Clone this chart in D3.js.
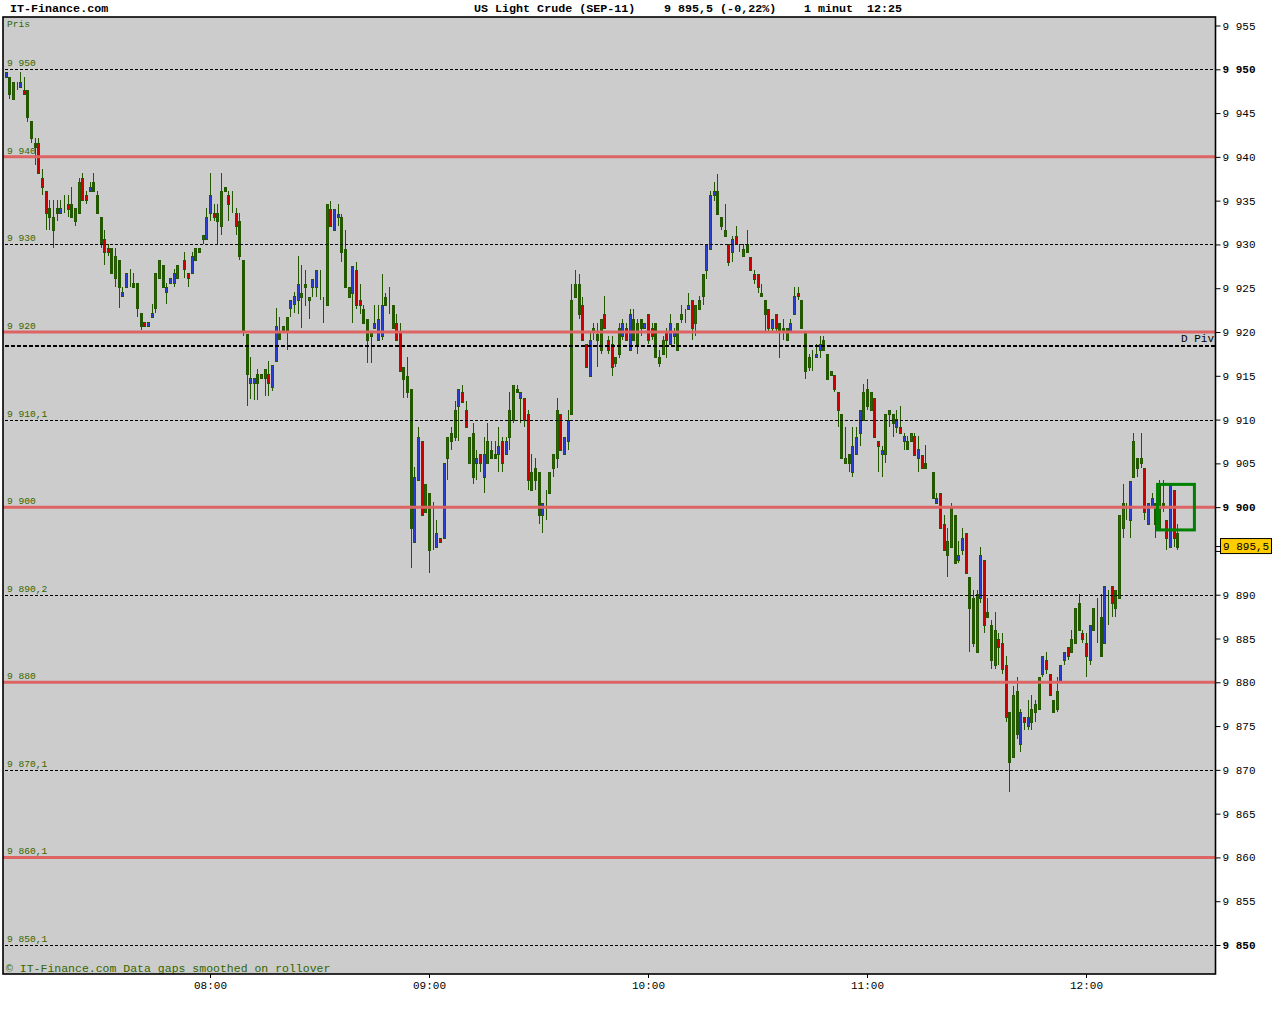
<!DOCTYPE html>
<html><head><meta charset="utf-8">
<script src="https://cdn.jsdelivr.net/npm/d3@7/dist/d3.min.js"></script>
<style>body{margin:0;background:#fff}svg{display:block}</style>
</head><body>
<svg id="chart" width="1280" height="1024"></svg>
<script>
// ---------- data ----------
const startTime = "07:04";            // time of first 1-minute candle
// [open, high, low, close] per minute, null = no trade
const candles = [
[9949.1,9949.7,9949.1,9949.7],[9949.1,9949.1,9946.6,9947.2],[9946.6,9948.6,9946.6,9948.6],[9947.6,9948.6,9947.6,9947.6],
[9948.0,9949.7,9948.0,9948.6],[9947.6,9949.1,9947.2,9947.2],[9947.6,9947.6,9944.0,9944.6],[9944.1,9944.1,9941.6,9942.1],
[9941.6,9942.1,9939.1,9941.1],[9941.6,9942.1,9938.2,9938.2],[9937.6,9938.6,9935.6,9936.6],[9936.1,9936.1,9931.6,9933.6],
[9934.2,9935.1,9931.6,9933.1],[9931.6,9935.1,9929.6,9933.1],[9934.2,9935.1,9932.7,9933.6],[9933.6,9935.1,9933.6,9934.2],
[9934.2,9935.6,9933.6,9934.2],[9934.6,9935.6,9933.1,9934.1],[9934.6,9936.6,9933.1,9933.1],[9932.7,9934.2,9932.1,9934.2],
[9933.6,9937.6,9933.6,9937.1],[9937.6,9938.2,9935.1,9935.1],[9935.6,9936.1,9934.6,9935.1],[9936.1,9937.1,9936.1,9936.6],
[9937.1,9938.2,9936.1,9936.1],[9935.6,9936.1,9933.6,9933.6],[9933.1,9933.1,9929.6,9930.1],[9930.6,9931.6,9927.7,9929.1],
[9929.6,9930.1,9928.7,9929.1],[9929.6,9929.6,9926.7,9926.7],[9926.2,9929.6,9925.1,9928.7],[9928.2,9928.2,9922.7,9925.1],
[9924.1,9925.1,9924.1,9924.6],[9925.1,9926.7,9925.1,9926.7],[9926.2,9927.2,9925.1,9926.2],[9925.6,9926.7,9925.1,9925.1],
[9925.6,9925.6,9921.7,9922.7],[9922.2,9922.2,9920.2,9920.7],[9921.2,9921.2,9920.7,9920.7],[9920.7,9921.2,9920.7,9921.2],
[9921.7,9923.2,9921.7,9922.2],[9922.7,9926.7,9922.2,9926.7],[9926.2,9928.2,9926.2,9928.2],[9927.7,9927.7,9925.1,9925.1],
[9924.6,9925.6,9923.2,9925.1],[9925.6,9926.2,9925.6,9926.2],[9925.6,9927.2,9925.1,9926.7],[9926.2,9927.7,9926.2,9927.7],
null,
[9928.2,9929.1,9926.2,9927.2],[9926.7,9926.7,9925.1,9926.2],[9926.7,9929.1,9926.7,9928.7],[9928.2,9929.6,9928.2,9929.6],
[9929.1,9929.6,9929.1,9929.6],[9930.6,9931.1,9930.1,9931.1],[9930.6,9934.2,9930.6,9933.1],[9933.6,9938.2,9932.7,9935.6],
[9933.6,9934.6,9932.7,9933.1],[9933.6,9934.6,9930.1,9932.7],[9932.1,9938.2,9931.1,9936.1],[9936.6,9936.6,9936.1,9936.1],
[9935.6,9936.1,9932.7,9934.6],[9934.2,9936.1,9933.6,9934.2],[9933.6,9934.2,9931.1,9932.1],[9932.7,9933.6,9928.2,9928.7],
[9928.2,9928.2,9919.6,9920.0],[9919.8,9919.8,9911.6,9915.2],[9914.2,9917.2,9912.4,9914.7],[9914.2,9914.7,9912.2,9914.7],
[9915.2,9915.8,9912.2,9914.2],[9914.7,9915.2,9914.7,9915.2],[9914.7,9915.8,9912.7,9915.8],[9915.2,9916.7,9912.7,9914.2],
[9913.7,9916.2,9913.3,9916.2],[9916.7,9922.7,9916.7,9920.7],[9920.0,9921.7,9919.2,9919.2],[9920.7,9920.7,9920.0,9920.0],
[9920.2,9921.7,9918.0,9921.7],[9922.7,9923.7,9921.7,9923.7],[9923.2,9924.6,9922.2,9924.1],[9923.6,9928.7,9922.1,9925.5],
[9924.0,9927.6,9920.5,9924.5],[9925.1,9927.1,9923.0,9925.5],[9923.6,9924.0,9921.5,9924.0],[9925.1,9926.1,9924.0,9926.1],
[9925.1,9927.1,9924.0,9927.1],[9926.1,9927.1,9923.6,9926.1],[9924.0,9924.0,9921.0,9924.0],[9923.1,9934.6,9923.1,9934.6],
[9934.1,9935.0,9932.1,9932.1],[9931.6,9934.1,9931.6,9934.1],[9933.1,9934.6,9932.1,9933.5],[9933.1,9933.5,9928.0,9929.1],
[9929.5,9931.6,9925.1,9925.1],[9924.0,9925.1,9924.0,9925.1],[9924.5,9927.5,9921.0,9927.5],[9927.1,9928.0,9922.6,9923.1],
[9923.6,9925.5,9922.1,9923.1],[9922.6,9923.1,9921.0,9921.0],[9921.5,9921.5,9916.5,9919.1],[9919.6,9920.0,9916.5,9920.0],
[9920.5,9923.1,9920.5,9921.0],[9919.1,9923.1,9919.1,9921.5],[9919.6,9926.6,9919.1,9923.1],[9924.0,9924.5,9923.1,9923.1],
[9922.1,9925.1,9922.1,9922.1],[9923.1,9923.1,9920.5,9920.5],[9921.0,9922.1,9919.1,9919.1],[9920.0,9921.0,9915.6,9915.6],
[9916.0,9916.0,9912.5,9914.6],[9915.0,9917.1,9912.5,9913.1],[9913.5,9913.5,9893.0,9897.6],[9896.0,9904.6,9896.0,9903.5],
[9903.1,9909.2,9903.1,9908.0],[9907.5,9907.5,9899.1,9899.1],[9899.5,9902.6,9899.5,9902.6],[9901.6,9901.6,9892.5,9895.1],
[9896.1,9900.6,9895.1,9896.1],[9895.5,9898.5,9895.5,9897.0],[9896.5,9896.5,9896.0,9896.0],[9896.5,9905.0,9896.5,9905.0],
[9905.6,9908.0,9903.1,9908.0],[9908.5,9909.2,9906.5,9907.5],[9908.0,9912.1,9907.5,9911.1],[9911.5,9913.5,9907.5,9913.5],
[9913.1,9914.0,9912.0,9912.0],[9911.1,9912.1,9909.1,9909.1],[9905.0,9908.0,9905.0,9908.0],[9908.5,9909.6,9902.6,9903.5],
[9905.0,9906.5,9903.1,9905.6],[9906.1,9906.1,9904.0,9905.0],[9903.5,9908.0,9901.6,9906.1],[9905.0,9909.6,9905.0,9907.5],
[9906.5,9907.5,9905.6,9905.6],[9906.1,9907.5,9905.6,9905.6],[9906.1,9909.1,9904.0,9907.0],[9907.5,9908.0,9904.0,9905.0],
[9906.1,9908.0,9906.1,9907.5],[9908.0,9913.1,9906.5,9911.1],[9910.0,9914.0,9909.6,9914.0],[9913.5,9914.0,9913.1,9913.1],
[9912.5,9913.1,9909.6,9913.1],[9912.5,9912.5,9909.1,9910.0],[9910.6,9911.1,9902.0,9903.1],[9902.0,9906.1,9902.0,9904.0],
[9904.5,9905.6,9902.0,9903.1],[9904.0,9904.0,9898.1,9899.1],[9899.1,9900.5,9897.0,9900.5],[9901.0,9902.0,9898.5,9901.0],
[9901.6,9904.0,9901.6,9904.0],[9904.5,9906.1,9903.5,9906.1],[9905.6,9912.5,9904.5,9911.1],[9910.6,9910.6,9906.5,9906.5],
[9906.1,9908.0,9906.1,9908.0],[9907.5,9911.1,9906.5,9910.0],[9910.6,9925.5,9910.6,9923.6],[9924.0,9927.1,9924.0,9925.5],
[9925.5,9926.6,9921.5,9922.1],[9923.1,9924.0,9919.1,9919.1],[9918.6,9918.6,9916.0,9916.0],[9915.0,9920.0,9915.0,9919.1],
[9920.0,9921.0,9919.1,9920.5],
[9919.8,9921.0,9916.0,9919.1],[9917.9,9921.5,9917.5,9921.5],[9922.1,9924.1,9920.5,9920.5],[9919.1,9919.6,9917.5,9917.9],
[9918.6,9919.6,9915.0,9916.0],[9916.5,9917.1,9916.0,9917.1],[9917.5,9921.0,9917.0,9920.5],[9919.6,9921.5,9919.1,9921.0],
[9920.5,9921.0,9919.1,9919.1],[9917.9,9922.6,9917.9,9922.1],[9921.5,9922.6,9919.1,9919.1],[9918.6,9921.5,9917.5,9921.0],
[9921.5,9921.5,9919.6,9920.5],[9920.5,9921.0,9920.5,9921.0],[9922.1,9922.1,9918.6,9919.1],[9920.5,9921.0,9919.1,9919.6],
[9921.0,9921.0,9917.0,9917.1],[9916.5,9917.9,9916.0,9917.1],[9917.5,9919.6,9917.5,9919.1],[9920.0,9920.5,9917.0,9919.1],
[9918.6,9922.1,9918.6,9921.0],[9919.6,9920.5,9918.6,9920.0],[9917.9,9921.0,9917.9,9921.0],[9921.5,9923.1,9921.0,9922.1],
[9921.0,9922.6,9921.0,9921.0],[9922.6,9924.5,9922.6,9923.1],[9923.6,9923.6,9919.1,9920.5],[9921.0,9923.1,9919.6,9923.1],
[9922.6,9924.1,9922.6,9923.6],[9924.1,9926.6,9923.1,9926.6],[9927.1,9930.1,9926.1,9930.1],[9929.5,9936.1,9929.5,9935.6],
[9935.6,9937.1,9935.0,9936.1],[9936.1,9938.1,9933.5,9933.5],[9933.1,9933.1,9931.6,9932.1],[9931.0,9934.6,9931.0,9931.6],
[9930.1,9930.1,9927.5,9928.0],[9929.1,9931.0,9928.0,9930.6],[9931.0,9932.1,9930.1,9930.1],[9929.1,9930.1,9929.1,9929.1],
[9928.7,9930.1,9928.7,9929.5],[9930.1,9931.6,9929.1,9929.1],[9928.6,9928.6,9927.1,9927.1],[9926.6,9927.1,9925.5,9926.1],
[9926.6,9926.6,9924.5,9925.1],[9924.5,9925.5,9924.1,9924.1],[9923.6,9923.6,9920.0,9922.1],[9922.6,9922.6,9920.0,9920.5],
[9920.5,9921.5,9920.0,9921.5],[9922.1,9922.1,9920.0,9920.5],[9921.0,9921.0,9917.0,9920.0],[9920.5,9921.5,9919.1,9920.0],
[9919.1,9920.5,9919.1,9920.5],[9920.0,9921.5,9920.0,9921.0],[9922.1,9925.1,9922.1,9924.1],[9924.5,9925.1,9923.6,9924.1],
[9923.6,9923.6,9920.5,9920.5],[9920.0,9920.0,9914.6,9915.6],[9916.0,9917.5,9915.6,9917.1],[9916.5,9917.9,9915.6,9916.5],
[9917.1,9918.6,9917.1,9917.5],[9917.9,9919.6,9917.0,9918.6],[9919.1,9919.6,9918.0,9918.0],[9917.5,9917.5,9914.6,9914.6],
[9915.1,9915.6,9915.1,9915.6],[9915.1,9915.1,9913.1,9913.5],[9913.1,9913.1,9909.1,9911.1],[9910.6,9910.6,9905.6,9905.6],
[9905.0,9909.1,9905.0,9905.6],[9906.1,9906.1,9904.0,9905.0],[9904.0,9909.1,9903.5,9907.0],[9906.1,9909.1,9906.1,9908.0],
[9908.5,9911.1,9907.0,9911.1],[9910.0,9914.1,9910.0,9913.1],[9913.5,9914.6,9911.1,9911.5],[9911.1,9913.1,9911.1,9913.1],
[9912.5,9912.5,9908.0,9908.0],[9907.5,9907.5,9904.0,9907.0],[9906.1,9907.0,9903.5,9906.5],[9906.1,9910.6,9905.0,9910.6],
[9910.6,9911.1,9909.1,9911.1],[9910.6,9910.6,9908.0,9909.6],[9909.1,9911.1,9908.5,9910.1],[9909.1,9911.5,9908.5,9908.5],
[9907.5,9908.5,9906.5,9908.1],[9907.5,9908.1,9906.6,9906.6],[9907.5,9908.5,9907.5,9908.5],[9908.1,9908.5,9906.0,9906.0],
[9905.6,9908.1,9904.0,9906.6],[9906.0,9906.0,9904.5,9904.5],[9905.0,9907.1,9904.5,9904.5],
null,
[9904.0,9904.0,9901.0,9901.0],[9900.5,9901.6,9900.5,9901.0],[9901.6,9901.6,9897.6,9897.6],[9898.1,9899.1,9895.1,9895.1],
[9894.5,9897.6,9892.0,9896.1],[9895.5,9900.5,9895.5,9900.0],[9899.1,9899.1,9893.6,9893.6],[9894.0,9896.1,9893.6,9894.5],
[9895.1,9897.6,9894.5,9896.5],[9897.0,9897.0,9892.5,9892.5],[9892.0,9892.0,9883.5,9888.5],[9889.6,9890.5,9884.0,9884.5],
[9883.5,9890.5,9883.5,9890.1],[9889.6,9895.5,9889.0,9894.5],[9894.0,9894.0,9885.6,9886.5],[9888.0,9889.6,9887.5,9887.5],
[9886.5,9887.1,9881.5,9882.5],[9882.0,9888.0,9881.5,9886.0],[9885.0,9885.6,9882.0,9884.0],[9884.5,9885.6,9881.0,9881.5],
[9882.0,9883.0,9875.5,9876.0],[9876.6,9876.6,9867.5,9870.9],[9871.5,9879.6,9871.5,9878.5],[9879.0,9880.6,9873.5,9874.1],
[9873.0,9877.0,9872.0,9876.6],[9876.0,9876.0,9874.5,9875.5],[9875.0,9878.0,9874.5,9876.0],[9875.5,9878.5,9874.5,9877.0],
[9876.6,9878.0,9875.5,9877.5],[9877.0,9880.6,9877.0,9880.6],[9881.0,9883.0,9880.6,9883.0],[9882.5,9883.5,9881.0,9881.5],
[9881.0,9881.0,9878.5,9878.5],[9878.0,9878.0,9876.6,9876.6],[9877.0,9880.6,9876.6,9879.0],[9880.1,9882.0,9880.1,9882.0],
[9882.5,9883.5,9882.0,9883.5],[9884.0,9884.0,9882.5,9883.0],[9883.5,9886.0,9883.5,9885.0],[9884.5,9888.5,9884.5,9888.5],
[9889.0,9890.1,9886.0,9886.0],[9885.6,9886.0,9884.5,9885.0],[9884.5,9885.6,9880.6,9883.0],[9882.5,9886.5,9882.0,9886.5],
[9886.0,9888.5,9886.0,9888.5],[9887.5,9889.6,9884.5,9887.5],[9887.5,9890.1,9883.0,9883.0],[9884.5,9891.0,9884.5,9891.0],
[9890.5,9890.5,9886.5,9890.5],[9891.0,9891.0,9887.5,9889.0],[9888.5,9890.5,9887.5,9890.5],[9889.6,9899.1,9889.6,9899.1],
[9897.6,9902.6,9896.5,9900.5],[9899.5,9900.5,9898.5,9899.5],[9898.5,9903.0,9896.5,9903.0],[9903.5,9908.5,9903.5,9907.5],
[9905.6,9905.6,9903.5,9904.5],[9905.0,9908.5,9904.5,9905.6],[9904.5,9904.5,9898.5,9899.5],[9898.1,9900.5,9898.1,9900.5],
[9900.0,9901.6,9900.0,9901.0],[9900.5,9900.5,9896.5,9898.1],[9897.6,9903.1,9897.6,9902.5],[9900.5,9903.1,9899.5,9900.0],
[9898.5,9898.5,9895.1,9896.5],[9895.5,9902.5,9895.5,9902.5],[9902.0,9902.0,9895.5,9896.5],[9897.0,9898.1,9895.1,9895.5]
];
const solidLevels  = [9940, 9920, 9900, 9880, 9860];
const dashedLevels = [9950, 9930, 9910, 9890, 9870, 9850];
const levelValues  = [9950, 9940, 9930, 9920, 9910, 9900, 9890, 9880, 9870, 9860, 9850];
const levelLabels  = ["9 950","9 940","9 930","9 920","9 910,1","9 900","9 890,2","9 880","9 870,1","9 860,1","9 850,1"];
const pivotValue = 9918.4;
const priceTicks = [9955,9950,9945,9940,9935,9930,9925,9920,9915,9910,9905,9900,9895,9890,9885,9880,9875,9870,9865,9860,9855,9850];
const timeTicks = ["08:00","09:00","10:00","11:00","12:00"];
const lastPrice = 9895.5;
const lastPriceLabel = "9 895,5";
const markerMinutes = [315.6, 325.7];   // minutes after start
const markerPrices  = [9897.4, 9902.6];
const headerParts = ["US Light Crude (SEP-11)", "9 895,5 (-0,22%)", "1 minut", "12:25"];

// ---------- drawing ----------
const svg = d3.select("#chart");
const FONT = "'Liberation Mono','DejaVu Sans Mono',monospace";
const GREEN_TXT = "#336600";
const plot = {left: 3, top: 17, right: 1215.5, bottom: 974};

const parse = d3.timeParse("%H:%M");
const t0 = parse(startTime);
const x = d3.scaleTime().domain([parse("08:00"), parse("12:00")]).range([210, 1086]);
const y = d3.scaleLinear().domain([9850, 9950]).range([945, 69.3]);
const tAt = m => new Date(t0.getTime() + m * 60000);

// plot background
svg.append("rect").attr("x", plot.left).attr("y", plot.top)
  .attr("width", plot.right - plot.left).attr("height", plot.bottom - plot.top)
  .attr("fill", "#cccccc");

// level labels (under candles)
svg.append("g").selectAll("text").data(levelValues).join("text")
  .attr("x", 7).attr("y", d => y(d) - 3)
  .attr("font-family", FONT).attr("font-size", 9.6).attr("fill", GREEN_TXT)
  .text((d, i) => levelLabels[i]);
svg.append("text").attr("x", 7).attr("y", 27).attr("font-family", FONT)
  .attr("font-size", 9.6).attr("fill", GREEN_TXT).text("Pris");

// candles
const data = candles.map((c, i) => c && {t: tAt(i), o: c[0], h: Math.max(c[1], c[0], c[3]), l: Math.min(c[2], c[0], c[3]), c: c[3]}).filter(Boolean);
const STROKE = "#245800";
const px = d => Math.round(x(d.t));
const cg = svg.append("g");
cg.selectAll("line").data(data).join("line")
  .attr("x1", d => px(d) + 0.5).attr("x2", d => px(d) + 0.5)
  .attr("y1", d => Math.round(y(d.h))).attr("y2", d => Math.round(y(d.l)))
  .attr("stroke", STROKE).attr("stroke-width", 1).attr("shape-rendering", "crispEdges");
cg.selectAll("rect").data(data).join("rect")
  .attr("x", d => px(d) - 0.5).attr("width", 2)
  .attr("y", d => Math.round(y(Math.max(d.o, d.c))) + 0.5)
  .attr("height", d => Math.max(0, Math.round(y(Math.min(d.o, d.c))) - Math.round(y(Math.max(d.o, d.c)))))
  .attr("fill", d => d.c > d.o ? "#2b3fd6" : (d.c < d.o ? "#cc0000" : STROKE))
  .attr("stroke", STROKE).attr("stroke-width", 1);

// dashed levels
svg.append("g").selectAll("line").data(dashedLevels).join("line")
  .attr("x1", plot.left + 2).attr("x2", plot.right)
  .attr("y1", d => Math.round(y(d)) + 0.5).attr("y2", d => Math.round(y(d)) + 0.5)
  .attr("stroke", "#000").attr("stroke-width", 1).attr("stroke-dasharray", "3,2");
// solid red levels
svg.append("g").selectAll("line").data(solidLevels).join("line")
  .attr("x1", plot.left).attr("x2", plot.right)
  .attr("y1", d => y(d)).attr("y2", d => y(d))
  .attr("stroke", "#de6464").attr("stroke-width", 3);
// pivot
svg.append("line").attr("x1", plot.left + 2).attr("x2", plot.right)
  .attr("y1", y(pivotValue)).attr("y2", y(pivotValue))
  .attr("stroke", "#000").attr("stroke-width", 2).attr("stroke-dasharray", "4,2");
svg.append("text").attr("x", 1214).attr("y", y(pivotValue) - 4).attr("text-anchor", "end")
  .attr("font-family", FONT).attr("font-size", 11).attr("fill", "#000").text("D Piv");

// marker box
svg.append("rect")
  .attr("x", x(tAt(markerMinutes[0]))).attr("width", x(tAt(markerMinutes[1])) - x(tAt(markerMinutes[0])))
  .attr("y", y(markerPrices[1])).attr("height", y(markerPrices[0]) - y(markerPrices[1]))
  .attr("fill", "none").attr("stroke", "#008000").attr("stroke-width", 3);

// copyright
svg.append("text").attr("x", 6).attr("y", 972).attr("font-family", FONT)
  .attr("font-size", 11.5).attr("fill", GREEN_TXT)
  .text("\u00A9 IT-Finance.com Data gaps smoothed on rollover");

// border
svg.append("rect").attr("x", plot.left).attr("y", plot.top)
  .attr("width", plot.right - plot.left).attr("height", plot.bottom - plot.top)
  .attr("fill", "none").attr("stroke", "#000").attr("stroke-width", 1.6);

// right axis (the tick hidden by the last-price box gets no label)
const coveredTick = Math.round(lastPrice / 5) * 5 === lastPrice ? lastPrice : Math.floor(lastPrice / 5) * 5;
const fmtPrice = d => d === coveredTick ? "" : String(d).slice(0, 1) + " " + String(d).slice(1);
const ya = svg.append("g").attr("transform", `translate(${plot.right},0)`)
  .call(d3.axisRight(y).tickValues(priceTicks).tickSize(5).tickPadding(2).tickFormat(fmtPrice));
ya.select(".domain").remove();
ya.selectAll("line").attr("stroke", "#000");
ya.selectAll("text").attr("font-family", FONT).attr("font-size", 11).attr("fill", "#000")
  .attr("font-weight", d => d % 50 === 0 ? "bold" : "normal");

// bottom axis
const xa = svg.append("g").attr("transform", `translate(0,${plot.bottom})`)
  .call(d3.axisBottom(x).tickValues(timeTicks.map(parse)).tickSize(4).tickPadding(3).tickFormat(d3.timeFormat("%H:%M")));
xa.select(".domain").remove();
xa.selectAll("line").attr("stroke", "#000");
xa.selectAll("text").attr("font-family", FONT).attr("font-size", 11).attr("fill", "#000");

// last price label
svg.append("line").attr("x1", plot.right).attr("x2", 1221).attr("y1", y(lastPrice)).attr("y2", y(lastPrice)).attr("stroke", "#000");
svg.append("rect").attr("x", 1220.5).attr("y", y(lastPrice) - 8).attr("width", 51).attr("height", 15)
  .attr("fill", "#ffcc00").attr("stroke", "#000").attr("stroke-width", 1);
svg.append("text").attr("x", 1223).attr("y", y(lastPrice) + 3.5).attr("font-family", FONT)
  .attr("font-size", 11).attr("fill", "#000").text(lastPriceLabel);

// header
svg.append("text").attr("x", 10).attr("y", 12).attr("font-family", FONT).attr("font-size", 11.7)
  .attr("font-weight", "bold").text("IT-Finance.com");
const headerX = [474, 664, 804, 867];
svg.append("g").selectAll("text").data(headerParts).join("text")
  .attr("x", (d, i) => headerX[i]).attr("y", 12).attr("font-family", FONT).attr("font-size", 11.7)
  .attr("font-weight", "bold").text(d => d);
</script>
</body></html>
